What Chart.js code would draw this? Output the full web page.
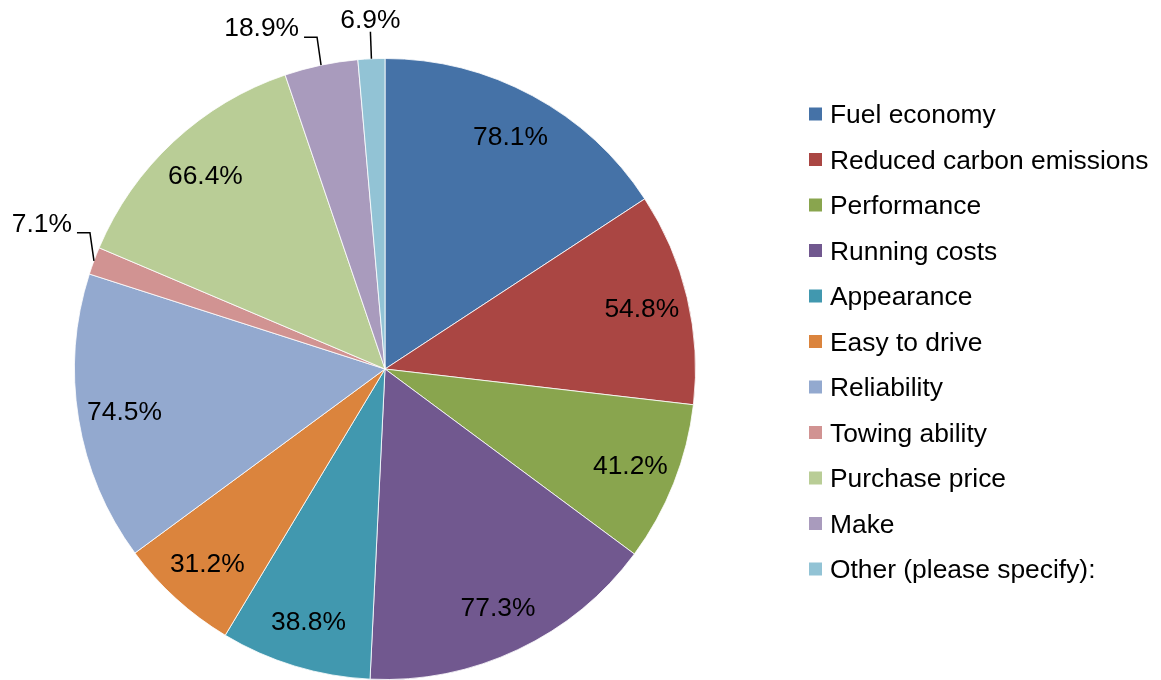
<!DOCTYPE html>
<html>
<head>
<meta charset="utf-8">
<script src="https://cdn.jsdelivr.net/npm/chart.js@4"></script>
<style>
  body { margin: 0; background: #fff; }
</style>
</head>
<body>
<canvas id="myChart" width="1161" height="680"></canvas>
<script>
// datos del gráfico
const categorias = ['Fuel economy', 'Reduced carbon emissions', 'Performance', 'Running costs', 'Appearance',
    'Easy to drive', 'Reliability', 'Towing ability', 'Purchase price', 'Make', 'Other (please specify):'];
const valores = [78.1, 54.8, 41.2, 77.3, 38.8, 31.2, 74.5, 7.1, 66.4, 18.9, 6.9];
const colores = ['#4572A7', '#AA4643', '#89A54E', '#71588F', '#4198AF', '#DB843D',
    '#93A9CF', '#D19392', '#B9CD96', '#A99BBD', '#92C3D5'];

const fuente = '26.4px "Liberation Sans", Arial, sans-serif';

// etiquetas de porcentaje (dentro o fuera con línea guía)
const etiquetasPlugin = {
    id: 'etiquetas',
    afterDatasetsDraw(chart) {
        const ctx = chart.ctx;
        const meta = chart.getDatasetMeta(0);
        const datos = chart.data.datasets[0].data;
        const total = datos.reduce((a, b) => a + b, 0);
        ctx.save();
        ctx.font = fuente;
        ctx.fillStyle = '#000';
        ctx.strokeStyle = '#000';
        ctx.lineWidth = 1.5;
        meta.data.forEach((arc, i) => {
            const { x, y, startAngle, endAngle, outerRadius } = arc.getProps(['x', 'y', 'startAngle', 'endAngle', 'outerRadius'], true);
            const medio = (startAngle + endAngle) / 2;
            const texto = datos[i].toFixed(1) + '%';
            if (datos[i] / total > 0.05) {
                const r = outerRadius * 0.85;
                ctx.textAlign = 'center';
                ctx.textBaseline = 'middle';
                ctx.fillText(texto, x + r * Math.cos(medio), y + r * Math.sin(medio) + 1);
                return;
            }
            // punto en el borde del sector
            const ex = x + outerRadius * Math.cos(medio);
            const ey = y + outerRadius * Math.sin(medio);
            ctx.beginPath();
            if (Math.abs(Math.cos(medio)) < 0.15) {
                ctx.moveTo(ex, ey);
                ctx.lineTo(ex - 1, ey - 27);
                ctx.stroke();
                ctx.textAlign = 'center';
                ctx.textBaseline = 'middle';
                ctx.fillText(texto, ex - 1, ey - 38);
            } else {
                const signo = Math.cos(medio) < 0 ? -1 : 1;
                const codoX = ex + signo * 4;
                const codoY = ey - 28;
                ctx.moveTo(ex, ey);
                ctx.lineTo(codoX, codoY);
                ctx.lineTo(codoX + signo * 13, codoY);
                ctx.stroke();
                ctx.textAlign = signo < 0 ? 'right' : 'left';
                ctx.textBaseline = 'middle';
                ctx.fillText(texto, codoX + signo * 18, codoY - 8);
            }
        });
        ctx.restore();
    }
};

// leyenda a la derecha
const leyendaPlugin = {
    id: 'leyenda',
    afterDraw(chart) {
        const ctx = chart.ctx;
        const fondo = chart.data.datasets[0].backgroundColor;
        ctx.save();
        ctx.font = fuente;
        ctx.textAlign = 'left';
        ctx.textBaseline = 'middle';
        chart.data.labels.forEach((label, i) => {
            const yc = 114 + i * 45.5;
            ctx.fillStyle = fondo[i];
            ctx.fillRect(809, yc - 6.5, 13, 13);
            ctx.fillStyle = '#000';
            ctx.fillText(label, 830, yc + 2);
        });
        ctx.restore();
    }
};

const config = {
    type: 'pie',
    data: {
        labels: categorias,
        datasets: [{
            data: valores,
            backgroundColor: colores,
            borderColor: 'rgba(255,255,255,0.8)',
            borderWidth: 1
        }]
    },
    options: {
        responsive: false,
        animation: false,
        layout: { padding: { left: 74, right: 465, top: 58, bottom: 0 } },
        plugins: {
            legend: { display: false },
            tooltip: { enabled: false }
        }
    },
    plugins: [etiquetasPlugin, leyendaPlugin]
};

const myChart = new Chart(document.getElementById('myChart'), config);
</script>
</body>
</html>
